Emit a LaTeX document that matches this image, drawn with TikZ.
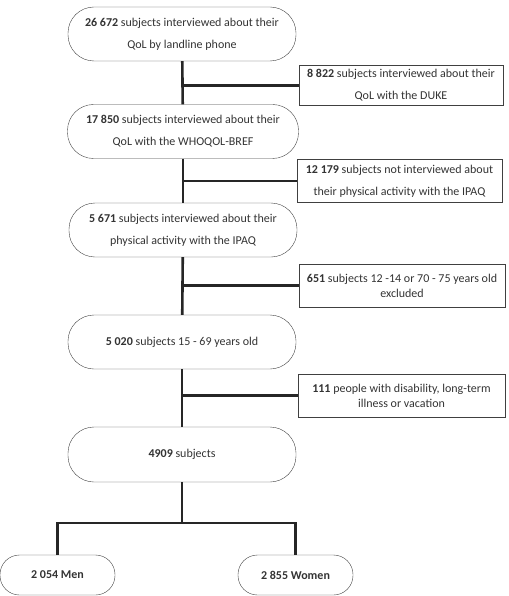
\documentclass[tikz,border=0pt]{standalone}
\usepackage{fontspec}
\setmainfont{Carlito}
\usetikzlibrary{shapes,positioning}

\begin{document}
\begin{tikzpicture}[x=1pt, y=-1pt,
  oval/.style={draw=black!75, rounded corners=26pt, minimum width=228pt, minimum height=54pt, inner sep=0pt, align=center, text=black!80, font=\fontsize{12}{22}\selectfont},
  side/.style={draw=black!75, rectangle, minimum width=205pt, minimum height=42pt, inner sep=0pt, align=center, text=black!80, font=\fontsize{12}{22}\selectfont},
  trunk/.style={line width=2.6pt, black!85}]
\useasboundingbox (0,0) rectangle (508,596);

% main flow
\node[oval] (phone) at (182,34) {\textbf{26 672} subjects interviewed about their\\QoL by landline phone};
\node[oval, minimum width=231pt] (whoqol) at (183,131.5) {\textbf{17 850} subjects interviewed about their\\QoL with the WHOQOL-BREF};
\node[oval] (ipaq) at (183,230) {\textbf{5 671} subjects interviewed about their\\physical activity with the IPAQ};
\node[oval] (age) at (182,342) {\textbf{5 020} subjects 15 - 69 years old};
\node[oval, minimum height=55pt] (final) at (182,454.5) {\textbf{4909} subjects};
\node[oval, minimum width=115pt, minimum height=40pt, rounded corners=19.5pt] (men) at (57.5,575) {\textbf{2 054 Men}};
\node[oval, minimum width=115pt, minimum height=40pt, rounded corners=19.5pt] (women) at (295.5,575) {\textbf{2 855 Women}};

% exclusions
\node[side, minimum width=204pt, minimum height=40pt] (duke) at (401,85.5) {\textbf{8 822} subjects interviewed about their\\QoL with the DUKE};
\node[side, minimum height=43pt] (noipaq) at (399.5,181) {\textbf{12 179} subjects not interviewed about\\their physical activity with the IPAQ};
\node[side, minimum width=206pt, minimum height=43pt, font=\fontsize{12}{15}\selectfont] (agex) at (402,285.5) {\textbf{651} subjects 12 -14 or 70 - 75 years old\\excluded};
\node[side, minimum width=207pt, minimum height=43pt, font=\fontsize{12}{15}\selectfont] (illness) at (401.5,395.5) {\textbf{111} people with disability, long-term\\illness or vacation};

\coordinate (split) at (182,523);

\draw[trunk] (phone) -- (whoqol);
\draw[trunk] (whoqol) -- (ipaq);
\draw[trunk] (ipaq) -- (age);
\draw[trunk] (age) -- (final);
\draw[trunk] (final) -- (split);
\draw[trunk] (men.north) |- (split) -| (women.north);

\draw[trunk] (duke.west) -- (duke.west -| phone.south);
\draw[trunk] (noipaq.west) -- (noipaq.west -| phone.south);
\draw[trunk] (agex.west) -- (agex.west -| phone.south);
\draw[trunk] (illness.west) -- (illness.west -| phone.south);
\end{tikzpicture}
\end{document}
